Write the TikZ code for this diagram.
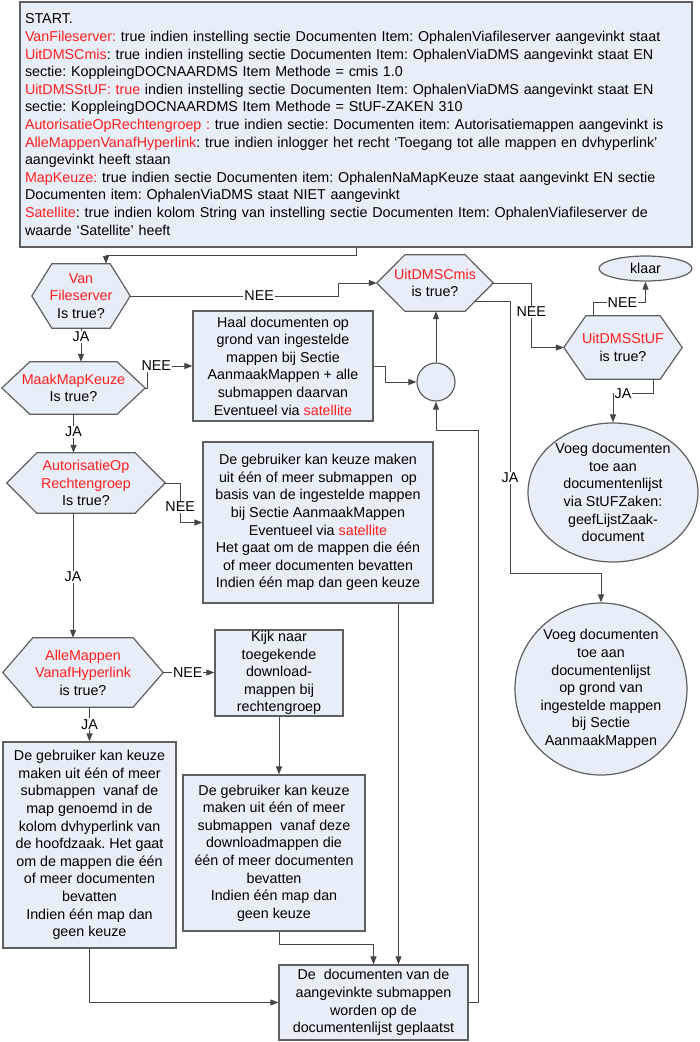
\documentclass[tikz,border=0pt]{standalone}
\usepackage{fontspec}
\setmainfont{Liberation Sans}
\usetikzlibrary{calc,arrows.meta,shapes.geometric,backgrounds}
\definecolor{boxfill}{RGB}{232,238,247}
\definecolor{boxline}{RGB}{95,95,95}
\definecolor{conline}{RGB}{70,70,70}
\definecolor{redtxt}{RGB}{255,30,30}
\newcommand\R[1]{\textcolor{redtxt}{#1}}
\newcommand\hexshape[2]{\draw[hexline] (#1.west) -- ($(#1.north west)+(#2,0)$) -- ($(#1.north east)+(-#2,0)$) -- (#1.east) -- ($(#1.south east)+(-#2,0)$) -- ($(#1.south west)+(#2,0)$) -- cycle;}
\frenchspacing
\begin{document}
\begin{tikzpicture}[x=1pt,y=-1pt,
  txt/.style={font=\fontsize{14.3pt}{17.6pt}\selectfont\frenchspacing},
  rbox/.style 2 args={txt, draw=boxline, fill=boxfill, line width=1.2pt, align=center, inner sep=0pt, minimum width=#1pt, minimum height=#2pt},
  hexn/.style 2 args={txt, align=center, inner sep=0pt, minimum width=#1pt, minimum height=#2pt},
  ell/.style 2 args={txt, ellipse, draw=boxline, fill=boxfill, line width=1.2pt, align=center, inner sep=0pt, minimum width=#1pt, minimum height=#2pt},
  hexline/.style={draw=boxline, fill=boxfill, line width=1.2pt},
  arr/.style={draw=conline, line width=1pt, -{Triangle[length=8pt,width=6pt]}},
  lbl/.style={txt, fill=white, inner sep=1pt}]
\useasboundingbox (0,0) rectangle (700,1042);

\node[rbox={672}{245}, align=left, text width=662pt] (top) at (356,124.5) {START.\\
\R{VanFileserver:} true indien instelling sectie Documenten Item: OphalenViafileserver aangevinkt staat\\
\R{UitDMSCmis}: true indien instelling sectie Documenten Item: OphalenViaDMS aangevinkt staat EN\\
sectie: KoppleingDOCNAARDMS Item Methode = cmis 1.0\\
\R{UitDMSStUF: true} indien instelling sectie Documenten Item: OphalenViaDMS aangevinkt staat EN\\
sectie: KoppleingDOCNAARDMS Item Methode = StUF-ZAKEN 310\\
\R{AutorisatieOpRechtengroep :} true indien sectie: Documenten item: Autorisatiemappen aangevinkt is\\
\R{AlleMappenVanafHyperlink}: true indien inlogger het recht ‘Toegang tot alle mappen en dvhyperlink’\\
aangevinkt heeft staan\\
\R{MapKeuze:} true indien sectie Documenten item: OphalenNaMapKeuze staat aangevinkt EN sectie\\
Documenten item: OphalenViaDMS staat NIET aangevinkt\\
\R{Satellite}: true indien kolom String van instelling sectie Documenten Item: OphalenViafileserver de\\
waarde ‘Satellite’ heeft};

\node[hexn={98}{64}] (vf) at (81,296) {\R{Van}\\\R{Fileserver}\\Is true?};
\node[hexn={143}{52}] (mmk) at (73.5,388) {\R{MaakMapKeuze}\\Is true?};
\node[hexn={158}{60}] (aut) at (86,483) {\R{AutorisatieOp}\\\R{Rechtengroep}\\Is true?};
\node[hexn={160}{69}] (alle) at (83,672.5) {\R{AlleMappen}\\\R{VanafHyperlink}\\is true?};
\node[hexn={116}{56}] (cmis) at (435,283) {\R{UitDMSCmis}\\is true?};
\node[hexn={118}{63}] (stuf) at (623,347.5) {\R{UitDMSStUF}\\is true?};

\node[ell={93}{25}] (klaar) at (645.5,268.5) {klaar};
\node[rbox={180}{110}] (haal) at (283,366) {Haal documenten op\\grond van ingestelde\\mappen bij Sectie\\AanmaakMappen + alle\\submappen daarvan\\Eventueel via \R{satellite}};
\node[circle, draw=boxline, fill=boxfill, line width=1.2pt, inner sep=0pt, minimum size=38pt] (circ) at (436,382) {};
\node[rbox={230}{161}] (keuze) at (318,522.5) {De gebruiker kan keuze maken\\uit één of meer submappen\ \ op\\basis van de ingestelde mappen\\bij Sectie AanmaakMappen\\Eventueel via \R{satellite}\\Het gaat om de mappen die één\\of meer documenten bevatten\\Indien één map dan geen keuze};
\node[rbox={128}{86}] (kijk) at (279,673) {Kijk naar\\toegekende\\download-\\mappen bij\\rechtengroep};
\node[rbox={173}{206}] (links) at (89.5,845) {De gebruiker kan keuze\\maken uit één of meer\\submappen\ \ vanaf de\\map genoemd in de\\kolom dvhyperlink van\\de hoofdzaak. Het gaat\\om de mappen die één\\of meer documenten\\bevatten\\Indien één map dan\\geen keuze};
\node[rbox={182}{156}] (mid) at (274,853) {De gebruiker kan keuze\\maken uit één of meer\\submappen\ \ vanaf deze\\downloadmappen die\\één of meer documenten\\bevatten\\Indien één map dan\\geen keuze};
\node[rbox={189}{75}] (final) at (373.5,1002.5) {De\ \ documenten van de\\aangevinkte submappen\\worden op de\\documentenlijst geplaatst};
\node[ell={170}{139}, inner sep=-4pt] (stufell) at (613,492.5) {Voeg documenten\\toe aan\\documentenlijst\\via StUFZaken:\\geefLijstZaak-\\document};
\node[txt, circle, draw=boxline, fill=boxfill, line width=1.2pt, align=center, inner sep=0pt, minimum size=172pt] (aanm) at (601,689) {Voeg documenten\\toe aan\\documentenlijst\\op grond van\\ingestelde mappen\\bij Sectie\\AanmaakMappen};

\begin{scope}[on background layer]
  \fill[white] (0,0) rectangle (700,1042);
  \hexshape{vf}{20}
  \hexshape{mmk}{28}
  \hexshape{aut}{30}
  \hexshape{alle}{30}
  \hexshape{cmis}{28}
  \hexshape{stuf}{22}
\end{scope}

\draw[arr] (top.south) -- ++(0,8) -| ([xshift=25pt]vf.north);
\draw[arr] (vf.east) -- node[lbl,pos=0.62]{NEE} ++(208,0) |- (cmis.west);
\draw[arr] (vf.south) -- node[lbl,pos=0.26]{JA} (vf.south |- mmk.north);
\draw[arr] (mmk.east) -- ++(2,0) |- node[lbl,pos=0.6]{NEE} (haal.west);
\draw[arr] (mmk.south) -- node[lbl,pos=0.46]{JA} (mmk.south |- aut.north);
\draw[arr] (haal.east) -- ++(12,0) |- (circ.west);
\draw[arr] (circ.north) -- (circ.north |- cmis.south);
\draw[arr] (cmis.east) -- ++(38,0) |- node[lbl,pos=0.225]{NEE} (stuf.west);
\coordinate (jacmis) at ($(cmis.center)+(40,18)$);
\draw[arr] (jacmis) -- ++(35,0) -- node[lbl,pos=0.65]{JA} ++(0,272) -| (aanm.north);
\draw[arr] ([xshift=-30pt]stuf.north) -- ++(0,-13) -| node[lbl,pos=0.28]{NEE} (klaar.south);
\draw[arr] ([xshift=30pt]stuf.south) -- ++(0,14) -| node[lbl,pos=0.375]{JA} (stufell.north);
\draw[arr] (aut.east) -- ++(15,0) |- node[lbl,pos=0.3]{NEE} (keuze.west);
\coordinate (autj) at ([xshift=-13pt]aut.south);
\draw[arr] (autj) -- node[lbl,pos=0.51]{JA} (autj |- alle.north);
\draw[arr] (alle.east) -- node[lbl,pos=0.48]{NEE} (alle.east -| kijk.west);
\draw[arr] (links.north |- alle.south) -- node[lbl,pos=0.5]{JA} (links.north);
\draw[arr] (kijk.south) -- (kijk.south |- mid.north);
\coordinate (f2) at ($(final.north)+(25,0)$);
\draw[arr] (f2 |- keuze.south) -- (f2);
\draw[arr] ([xshift=5pt]mid.south) -- ++(0,13) -| (final.north);
\draw[arr] (links.south) |- (final.west);
\coordinate (cb) at ($(circ.south)+(0,29)$);
\draw[arr] (final.east) -- ++(10,0) |- (cb) -- (circ.south);
\end{tikzpicture}
\end{document}
